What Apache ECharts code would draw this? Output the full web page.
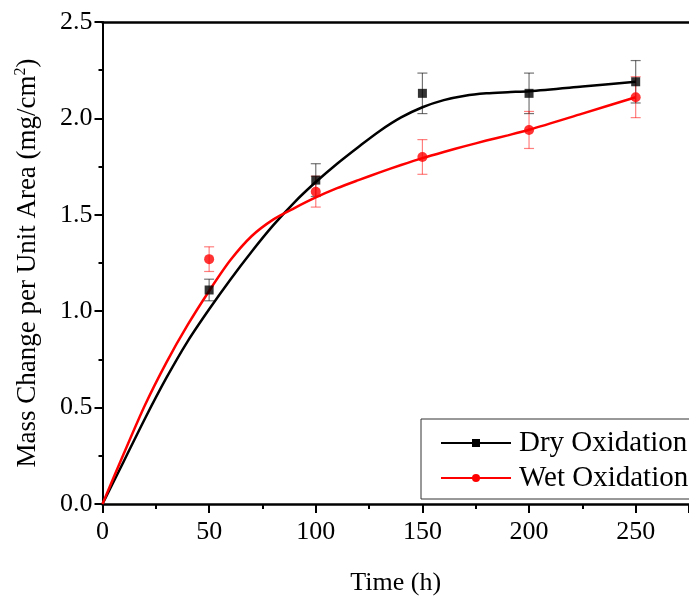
<!DOCTYPE html>
<html>
<head>
<meta charset="utf-8">
<script src="https://cdn.jsdelivr.net/npm/echarts@6/dist/echarts.min.js"></script>
<style>
  html, body { margin: 0; padding: 0; background: #fff; }
  #chart { width: 689px; height: 601px; }
</style>
</head>
<body>
<div id="chart"></div>
<script>
// Measured mass gain (mean and error) at each exposure time
const timePoints = [50, 100, 150, 200, 250];
const dryMeans = [1.11, 1.68, 2.13, 2.13, 2.19];
const dryErrors = [0.056, 0.085, 0.105, 0.105, 0.11];
const wetMeans = [1.27, 1.62, 1.80, 1.94, 2.11];
const wetErrors = [0.064, 0.08, 0.09, 0.096, 0.106];

// Fitted growth curves
const fitTimes = [0, 10, 20, 30, 40, 50, 60, 70, 80, 90, 100, 110, 120, 130, 140, 150, 160, 170, 180, 190, 200, 225, 250];
const dryFit = [0, 0.222, 0.445, 0.655, 0.845, 1.01, 1.165, 1.31, 1.445, 1.565, 1.67, 1.765, 1.852, 1.935, 2.005, 2.058, 2.095, 2.118, 2.13, 2.136, 2.141, 2.165, 2.19];
const wetFit = [0, 0.262, 0.515, 0.735, 0.93, 1.105, 1.265, 1.39, 1.475, 1.535, 1.59, 1.638, 1.68, 1.72, 1.758, 1.794, 1.826, 1.856, 1.885, 1.912, 1.941, 2.025, 2.11];

// Axis ticks
const xTicks = [0, 50, 100, 150, 200, 250];
const yTicks = [0.0, 0.5, 1.0, 1.5, 2.0, 2.5];

const FONT = '"Liberation Serif", "Times New Roman", serif';

function pairs(xs, ys) { return xs.map((x, i) => [x, ys[i]]); }
function triples(xs, ys, es) { return xs.map((x, i) => [x, ys[i], es[i]]); }

function errorBars(color) {
  return function (params, api) {
    const x = api.value(0), y = api.value(1), e = api.value(2);
    const top = api.coord([x, y + e]);
    const bot = api.coord([x, y - e]);
    const cap = 5;
    const style = { stroke: color, lineWidth: 1.2 };
    return {
      type: 'group',
      children: [
        { type: 'line', shape: { x1: top[0], y1: top[1], x2: bot[0], y2: bot[1] }, style: style },
        { type: 'line', shape: { x1: top[0] - cap, y1: top[1], x2: top[0] + cap, y2: top[1] }, style: style },
        { type: 'line', shape: { x1: bot[0] - cap, y1: bot[1], x2: bot[0] + cap, y2: bot[1] }, style: style }
      ]
    };
  };
}

const chart = echarts.init(document.getElementById('chart'), null, { renderer: 'canvas' });

const option = {
  animation: false,
  backgroundColor: '#ffffff',
  textStyle: { fontFamily: FONT },
  grid: { left: 102.5, top: 22, right: -6.4, bottom: 96, containLabel: false },
  legend: {
    orient: 'vertical',
    left: 421,
    top: 419,
    padding: [9, 4, 6, 19],
    itemGap: 5,
    itemWidth: 70,
    itemHeight: 10,
    borderColor: '#333',
    borderWidth: 1,
    backgroundColor: '#fff',
    textStyle: { fontFamily: FONT, fontSize: 29, color: '#000', lineHeight: 30, padding: [0, 0, 0, 3] },
    data: ['Dry Oxidation', 'Wet Oxidation']
  },
  xAxis: [
    {
      type: 'value',
      min: 0,
      max: 275,
      interval: 50,
      position: 'bottom',
      name: 'Time (h)',
      nameLocation: 'middle',
      nameGap: 66,
      nameTextStyle: { fontFamily: FONT, fontSize: 26, color: '#000' },
      axisLine: { show: true, onZero: false, lineStyle: { color: '#000', width: 2.5 } },
      axisTick: { show: true, inside: false, length: 9, lineStyle: { color: '#000', width: 2 } },
      minorTick: { show: true, splitNumber: 2, length: 5, lineStyle: { color: '#000', width: 2 } },
      axisLabel: {
        show: true, margin: 15, fontFamily: FONT, fontSize: 26, color: '#000',
        showMaxLabel: false,
        formatter: v => (xTicks.indexOf(v) >= 0 ? String(v) : '')
      },
      splitLine: { show: false }
    },
    {
      type: 'value',
      min: 0,
      max: 275,
      position: 'top',
      axisLine: { show: true, onZero: false, lineStyle: { color: '#000', width: 2.5 } },
      axisTick: { show: false },
      axisLabel: { show: false },
      splitLine: { show: false }
    }
  ],
  yAxis: {
    type: 'value',
    min: 0,
    max: 2.5,
    interval: 0.5,
    name: 'Mass Change per Unit Area (mg/cm{sup|2})',
    nameLocation: 'middle',
    nameGap: 60,
    nameRotate: 90,
    nameTextStyle: {
      fontFamily: FONT, fontSize: 27, color: '#000',
      rich: { sup: { fontFamily: FONT, fontSize: 16, color: '#000', padding: [0, 0, 14, 0] } }
    },
    axisLine: { show: true, onZero: false, lineStyle: { color: '#000', width: 2 } },
    axisTick: { show: true, inside: false, length: 8, lineStyle: { color: '#000', width: 2 } },
    minorTick: { show: true, splitNumber: 2, length: 4, lineStyle: { color: '#000', width: 2 } },
    axisLabel: {
      margin: 10, fontFamily: FONT, fontSize: 26, color: '#000',
      formatter: v => (yTicks.some(t => Math.abs(t - v) < 1e-9) ? v.toFixed(1) : '')
    },
    splitLine: { show: false }
  },
  series: [
    {
      name: 'Dry Oxidation',
      type: 'line',
      smooth: 0.3,
      symbol: 'rect',
      symbolSize: 10,
      showSymbol: false,
      itemStyle: { color: '#000' },
      lineStyle: { color: '#000', width: 2.5 },
      data: pairs(fitTimes, dryFit),
      z: 3
    },
    {
      name: 'Wet Oxidation',
      type: 'line',
      smooth: 0.3,
      symbol: 'circle',
      symbolSize: 11,
      showSymbol: false,
      itemStyle: { color: '#ff0000' },
      lineStyle: { color: '#ff0000', width: 2.5 },
      data: pairs(fitTimes, wetFit),
      z: 3
    },
    {
      name: 'Dry Oxidation',
      type: 'custom',
      renderItem: errorBars('rgba(0,0,0,0.55)'),
      data: triples(timePoints, dryMeans, dryErrors),
      encode: { x: 0, y: 1 },
      z: 2
    },
    {
      name: 'Wet Oxidation',
      type: 'custom',
      renderItem: errorBars('rgba(255,0,0,0.5)'),
      data: triples(timePoints, wetMeans, wetErrors),
      encode: { x: 0, y: 1 },
      z: 2
    },
    {
      name: 'Dry Oxidation',
      type: 'scatter',
      symbol: 'rect',
      symbolSize: 9,
      itemStyle: { color: '#000' },
      data: pairs(timePoints, dryMeans),
      z: 4
    },
    {
      name: 'Wet Oxidation',
      type: 'scatter',
      symbol: 'circle',
      symbolSize: 10,
      itemStyle: { color: '#ff0000' },
      data: pairs(timePoints, wetMeans),
      z: 4
    }
  ]
};

chart.setOption(option);
</script>
</body>
</html>
